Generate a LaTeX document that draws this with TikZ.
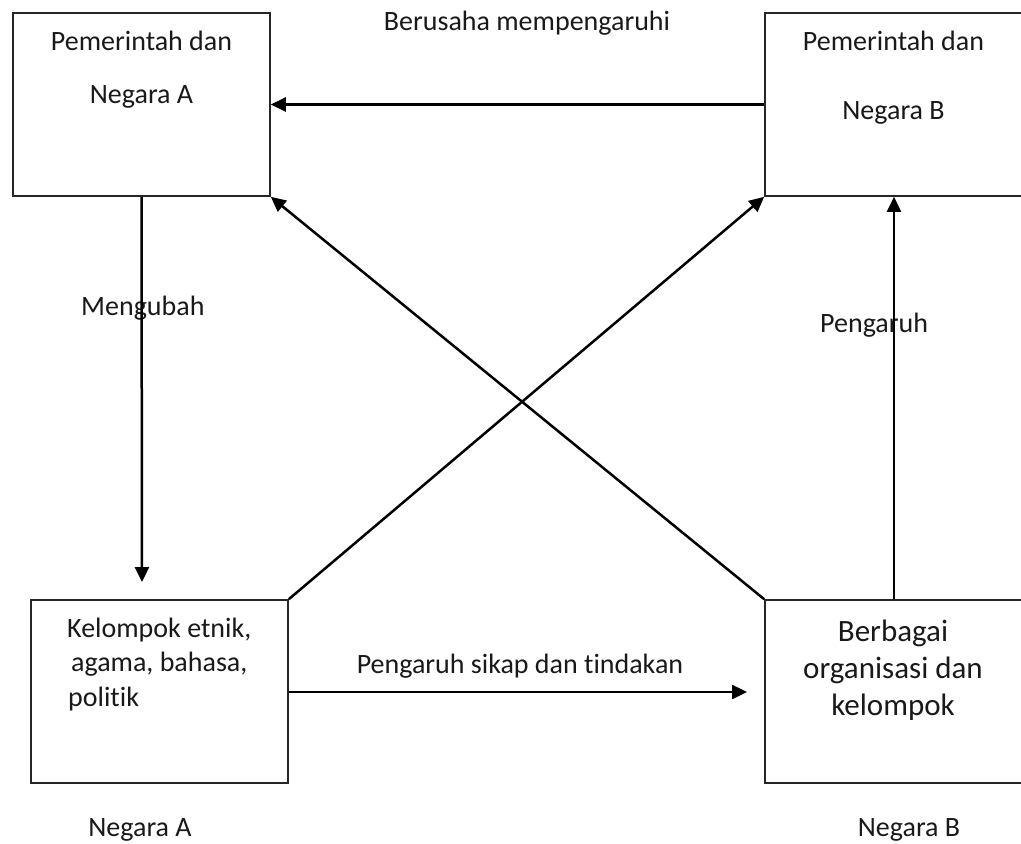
\documentclass[tikz,border=0pt]{standalone}
\usepackage{fontspec}
\setmainfont{Carlito}[Ligatures=NoCommon]
\usetikzlibrary{arrows.meta}
\tikzset{
  box/.style={draw=black!85, line width=1.6pt, rectangle, inner sep=0pt, minimum width=257pt, minimum height=183pt},
  link/.style={line width=2.5pt, -{Triangle[length=15pt,width=14pt]}},
  txt/.style={inner sep=0pt, font=\fontsize{28}{34}\selectfont, text=black!90},
  bigtxt/.style={inner sep=0pt, font=\fontsize{31}{37}\selectfont, text=black!90}
}
\begin{document}
\begin{tikzpicture}[x=1pt,y=1pt]
\useasboundingbox (0,0) rectangle (1021,-844);

% the four boxes
\node[box] (govA) at (141.5,-104.5) {};
\node[box, minimum width=258pt] (govB) at (894,-104.5) {};
\node[box] (grpA) at (159.5,-691.5) {};
\node[box, minimum width=258pt] (grpB) at (894,-691.5) {};

% texts inside the boxes
\node[txt, anchor=base] (tA1) at (141.5,-50) {Pemerintah dan};
\node[txt, anchor=base] (tA2) at (141.5,-103) {Negara A};
\node[txt, anchor=base] (tB1) at (893.5,-50) {Pemerintah dan};
\node[txt, anchor=base] (tB2) at (893.5,-119) {Negara B};
\node[txt, anchor=base west] (tC1) at (67,-637) {Kelompok etnik,};
\node[txt, anchor=base west] (tC2) at (71,-671) {agama, bahasa,};
\node[txt, anchor=base west] (tC3) at (68,-706) {politik};
\node[bigtxt, anchor=base] (tD1) at (893,-641) {Berbagai};
\node[bigtxt, anchor=base] (tD2) at (893,-678) {organisasi dan};
\node[bigtxt, anchor=base] (tD3) at (893,-715) {kelompok};

% country names below the lower boxes
\node[txt, anchor=base] (nA) at (140,-836) {Negara A};
\node[txt, anchor=base] (nB) at (909,-836) {Negara B};

% connector labels
\node[txt, anchor=base] (lTop) at (527,-30) {Berusaha mempengaruhi};
\node[txt, anchor=base west] (lLeft) at (81,-315) {Mengubah};
\node[txt, anchor=base west] (lRight) at (820,-332) {Pengaruh};
\node[txt, anchor=base] (lBottom) at (520,-673) {Pengaruh sikap dan tindakan};

% free ends of two arrows
\coordinate (downEnd) at (142,-582);
\coordinate (rightEnd) at (747,-692);

% connectors
\draw[link] (govB.west) -- (govA.east);
\draw[link] (govA.south) -- (downEnd);
\draw[link] (grpA.north east) -- (govB.south west);
\draw[link] (grpB.north west) -- (govA.south east);
\draw[link] (grpB.north) -- (govB.south);
\draw[link] (grpA.east |- rightEnd) -- (rightEnd);
\end{tikzpicture}
\end{document}
